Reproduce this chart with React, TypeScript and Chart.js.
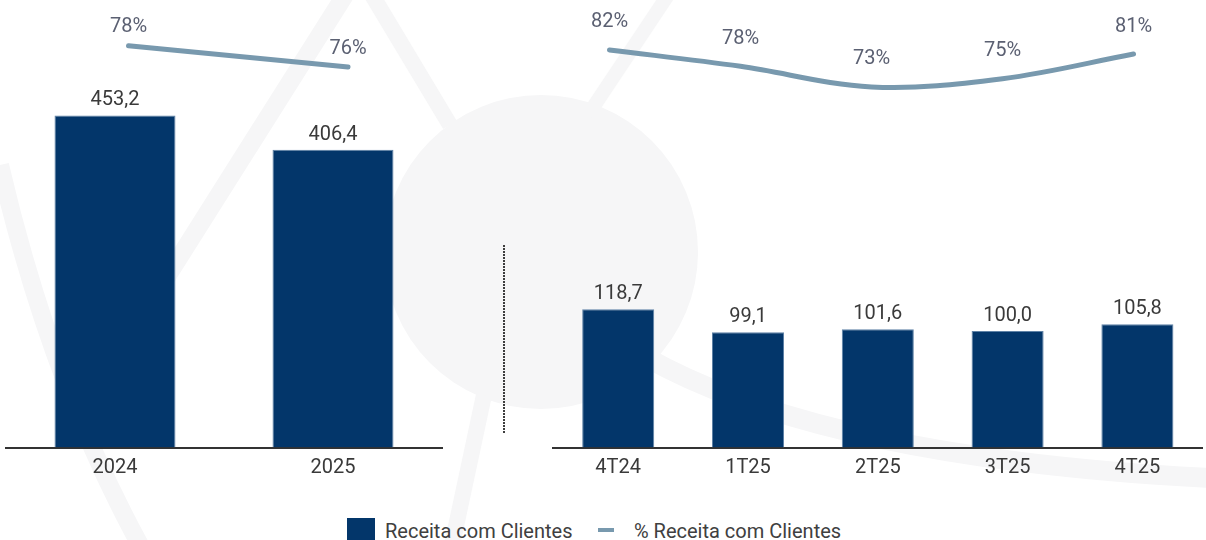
import React, { useEffect, useRef } from "react";
import { Chart, registerables } from "chart.js";

Chart.register(...registerables);

// ---- Data ----
const annualLabels = ["2024", "2025"];
const annualRevenue = [453.2, 406.4];
const annualShare = [78, 76];

const quarterLabels = ["4T24", "1T25", "2T25", "3T25", "4T25"];
const quarterRevenue = [118.7, 99.1, 101.6, 100.0, 105.8];
const quarterShare = [82, 78, 73, 75, 81];

const legendLabels = ["Receita com Clientes", "% Receita com Clientes"];

// ---- Styles ----
const BAR = "#03366a";
const BAR_EDGE = "#5f82a6";
const LINE = "#7899ae";
const FONT = "Roboto";
const VALUE_COLOR = "#3a3a3a";
const PCT_COLOR = "#5b6072";
const DECOR = "#f6f6f7";

function makeLabelPlugin(lineOffset: number) {
  return {
    id: "valueLabels",
    afterDatasetsDraw(chart: any) {
      const ctx = chart.ctx;
      ctx.save();
      ctx.font = `20px ${FONT}`;
      ctx.textAlign = "center";
      ctx.textBaseline = "alphabetic";
      chart.data.datasets.forEach((ds: any, i: number) => {
        const meta = chart.getDatasetMeta(i);
        meta.data.forEach((el: any, j: number) => {
          if (ds.type === "line") {
            const v = ds.data[j].y;
            ctx.fillStyle = PCT_COLOR;
            ctx.fillText(`${v}%`, el.x, el.y - lineOffset);
          } else {
            const v = ds.data[j] as number;
            ctx.fillStyle = VALUE_COLOR;
            ctx.fillText(v.toFixed(1).replace(".", ","), el.x, el.y - 10);
          }
        });
      });
      ctx.restore();
    },
  };
}

function buildConfig(
  labels: string[],
  revenue: number[],
  share: number[],
  o: any
): any {
  return {
    type: "bar",
    data: {
      labels,
      datasets: [
        {
          type: "line",
          label: legendLabels[1],
          data: share.map((v, i) => ({ x: i, y: v })),
          xAxisID: "x2",
          yAxisID: "y2",
          borderColor: LINE,
          backgroundColor: LINE,
          borderWidth: 5,
          borderCapStyle: "round",
          borderJoinStyle: "round",
          pointRadius: 0,
          tension: o.tension,
          fill: false,
          clip: false,
          order: 0,
        },
        {
          type: "bar",
          label: legendLabels[0],
          data: revenue,
          backgroundColor: BAR,
          borderColor: BAR_EDGE,
          borderWidth: 1,
          grouped: false,
          barPercentage: 0.555,
          categoryPercentage: 1,
          xAxisID: "x",
          yAxisID: "y",
          order: 1,
        },
      ],
    },
    options: {
      animation: false,
      responsive: false,
      maintainAspectRatio: false,
      layout: { padding: o.padding },
      plugins: {
        legend: { display: false },
        tooltip: { enabled: false },
      },
      scales: {
        x: {
          type: "category",
          offset: true,
          grid: { display: false, drawTicks: false, offset: true },
          border: { display: true, color: "#333333", width: 2 },
          ticks: {
            font: { family: FONT, size: 20 },
            color: VALUE_COLOR,
            padding: 8,
            maxRotation: 0,
          },
        },
        x2: {
          type: "linear",
          display: false,
          offset: false,
          grid: { offset: false },
          min: o.x2min,
          max: o.x2max,
        },
        y: { display: false, min: 0, max: o.ymax },
        y2: { display: false, min: o.y2min, max: o.y2max },
      },
    },
    plugins: [makeLabelPlugin(o.lineOffset)],
  };
}

function ChartCanvas(props: { config: any; left: number; width: number; height: number }) {
  const ref = useRef<HTMLCanvasElement | null>(null);
  useEffect(() => {
    if (!ref.current) return;
    const chart = new Chart(ref.current, props.config);
    return () => chart.destroy();
  }, []);
  return (
    <canvas
      ref={ref}
      width={props.width}
      height={props.height}
      style={{
        position: "absolute",
        left: props.left,
        top: 0,
        width: props.width,
        height: props.height,
        display: "block",
      }}
    />
  );
}

const annualConfig = buildConfig(annualLabels, annualRevenue, annualShare, {
  padding: { left: 6, right: 18, top: 0, bottom: 2.5 },
  ymax: 610.8,
  y2min: 40.27,
  y2max: 82.29,
  x2min: -0.558,
  x2max: 1.428,
  tension: 0,
  lineOffset: 13.4,
});

const quarterConfig = buildConfig(quarterLabels, quarterRevenue, quarterShare, {
  padding: { left: 33.3, right: 3.7, top: 0, bottom: 2.5 },
  ymax: 384.4,
  y2min: -14.74,
  y2max: 94.14,
  x2min: -0.429,
  x2max: 4.525,
  tension: 0.35,
  lineOffset: 22.5,
});

function Decorations() {
  return (
    <svg
      width={1206}
      height={540}
      style={{ position: "absolute", left: 0, top: 0 }}
    >
      <circle cx={541} cy={252} r={157} fill={DECOR} />
      <path d="M 345 -5 L 165 280" stroke={DECOR} strokeWidth={18} fill="none" />
      <path d="M 0 165 Q 50 380 140 545" stroke={DECOR} strokeWidth={18} fill="none" />
      <path d="M 372 -5 L 450 125" stroke={DECOR} strokeWidth={16} fill="none" />
      <path d="M 668 -5 L 588 115" stroke={DECOR} strokeWidth={14} fill="none" />
      <path d="M 484 395 L 452 545" stroke={DECOR} strokeWidth={16} fill="none" />
      <path d="M 590 320 Q 760 455 1210 478" stroke={DECOR} strokeWidth={20} fill="none" />
    </svg>
  );
}

export default function App() {
  return (
    <div
      style={{
        position: "fixed",
        left: 0,
        top: 0,
        width: 1206,
        height: 540,
        overflow: "hidden",
        background: "#ffffff",
        fontFamily: FONT,
      }}
    >
      <Decorations />
      <ChartCanvas config={annualConfig} left={0} width={460} height={490} />
      <ChartCanvas config={quarterConfig} left={520} width={686} height={490} />
      <div
        style={{
          position: "absolute",
          left: 503,
          top: 245,
          width: 2,
          height: 189,
          background:
            "repeating-linear-gradient(to bottom, #3d3d3d 0px, #3d3d3d 2px, transparent 2px, transparent 3px)",
        }}
      />
      {/* Legend */}
      <div
        style={{
          position: "absolute",
          left: 346.5,
          top: 518,
          width: 28,
          height: 28,
          background: BAR,
        }}
      />
      <span
        style={{
          position: "absolute",
          left: 385,
          top: 521.2,
          fontSize: 20,
          lineHeight: "20px",
          color: "#404040",
          whiteSpace: "nowrap",
        }}
      >
        {legendLabels[0]}
      </span>
      <div
        style={{
          position: "absolute",
          left: 598,
          top: 528,
          width: 16,
          height: 4,
          background: LINE,
        }}
      />
      <span
        style={{
          position: "absolute",
          left: 634,
          top: 521.2,
          fontSize: 20,
          lineHeight: "20px",
          color: "#404040",
          whiteSpace: "nowrap",
        }}
      >
        {legendLabels[1]}
      </span>
    </div>
  );
}
